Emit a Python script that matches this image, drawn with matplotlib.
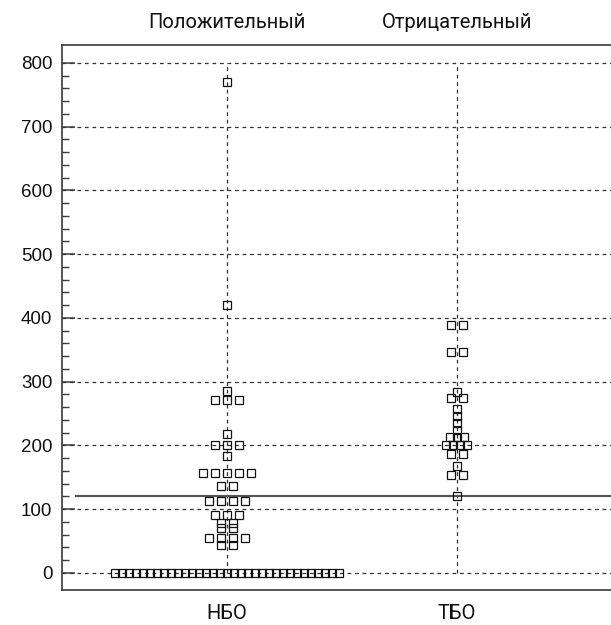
import numpy as np
import matplotlib
matplotlib.use("Agg")
import matplotlib.pyplot as plt
from matplotlib.ticker import FixedLocator

# Categories and their secondary (top) captions
categories = ["НБО", "ТБО"]
top_captions = ["Положительный", "Отрицательный"]

# Measured values per group
nbo_values = ([770, 420, 285] + [272] * 3 + [218] + [200] * 3 + [184]
              + [157] * 5 + [136] * 2 + [113] * 4 + [91] * 3 + [78] * 2
              + [70] * 2 + [55] * 4 + [44] * 2 + [0] * 33)
tbo_values = ([389] * 2 + [347] * 2 + [284] + [275] * 2 + [258, 247, 236, 225]
              + [214] * 3 + [201] * 4 + [187] * 2 + [168] + [153] * 2 + [121])
threshold = 120

y_ticks = [0, 100, 200, 300, 400, 500, 600, 700, 800]

W, H = 611, 625
fig = plt.figure(figsize=(W / 100, H / 100), dpi=100)
# the frame runs off the right edge of the canvas
ax = fig.add_axes([62 / W, 1 - 590 / H, 552 / W, 545 / H])

ax.set_xlim(-0.717, 1.683)
ax.set_ylim(-26.7, 828.2)

spine_col = "#3a3a3a"
for s in ax.spines.values():
    s.set_color(spine_col)
    s.set_linewidth(1.2)
ax.spines["right"].set_visible(False)

# dashed grid
grid_kw = dict(color="#333333", lw=0.9, ls=(0, (3, 3)), zorder=1)
for yv in y_ticks:
    ax.axhline(yv, **grid_kw)
for xi in range(len(categories)):
    ax.vlines(xi, y_ticks[0], y_ticks[-1], **grid_kw)

# cut-off line
ax.axhline(threshold, xmin=0.026, xmax=1, color="#555555", lw=1.5, zorder=2)

# horizontal spreading of equal values (pixel offsets)
fig.canvas.draw()
bbox = ax.get_window_extent()
x0, x1 = ax.get_xlim()
units_per_px = (x1 - x0) / bbox.width


def spread(values, step_px, pair_px=12.5, crowded_px=7.0):
    xs, ys = [], []
    uniq = []
    for v in values:
        if v not in uniq:
            uniq.append(v)
    for v in uniq:
        n = values.count(v)
        if n > 10:
            s = crowded_px
        elif n == 2:
            s = pair_px
        else:
            s = step_px
        offs = (np.arange(n) - (n - 1) / 2) * s
        xs.extend(offs)
        ys.extend([v] * n)
    return np.array(xs) * units_per_px, np.array(ys)


for xi, (vals, step) in enumerate([(nbo_values, 12.0), (tbo_values, 7.0)]):
    dx, yy = spread(vals, step)
    ax.plot(xi + dx, yy, ls="none", marker="s", ms=5.7, mfc="none",
            mec="#111111", mew=0.9, zorder=3, clip_on=False)

# axes ticks: minor ticks only inside the labelled range
ax.set_yticks(y_ticks)
minor = [v for v in range(y_ticks[0], y_ticks[-1], 20) if v % 100]
ax.yaxis.set_minor_locator(FixedLocator(minor))
ax.tick_params(axis="y", which="major", direction="in", length=9, width=1.1,
               color=spine_col, pad=7, labelsize=13.5)
ax.tick_params(axis="y", which="minor", direction="in", length=5, width=1.0,
               color=spine_col)
for lab in ax.get_yticklabels():
    lab.set_fontfamily(["Liberation Sans", "DejaVu Sans"])
    lab.set_color("#111111")

cat_font = ["Liberation Sans Narrow", "Roboto", "DejaVu Sans"]
ax.set_xticks(range(len(categories)))
ax.set_xticklabels(categories, fontfamily=cat_font, fontsize=14.5,
                   color="#111111")
ax.tick_params(axis="x", length=0, pad=10)

top = ax.secondary_xaxis("top")
top.set_xticks(range(len(categories)))
top.set_xticklabels(top_captions, fontfamily=cat_font, fontsize=14.5,
                    color="#111111")
top.tick_params(axis="x", length=0, pad=9)
top.spines["top"].set_visible(False)

fig.savefig("out.png", dpi=100)
